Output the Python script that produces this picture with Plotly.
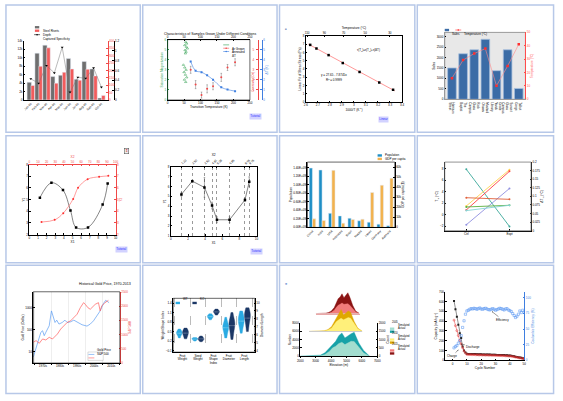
import numpy as np
import plotly.graph_objects as go

W, H = 563, 401
FONT = "Liberation Sans, Arial, sans-serif"
RED = "#f04848"
BLUE = "#3f7fe0"
GREEN = "#2e9e4f"

# 1 - rivets
CAT1 = ["Jan-06", "Feb-06", "Mar-06", "Apr-06", "May-06", "Jun-06", "Jul-06", "Aug-06", "Sep-06", "Oct-06"]
STEEL = [4200, 11100, 13000, 5550, 5870, 9850, 4930, 9150, 7350, 470]
DEPTH = [98, 228, 353, 114, 188, 210, 134, 208, 163, 31]
SPEC = [0.43, 0.34, 0.70, 0.55, 1.07, 0.16, 0.46, 0.44, 0.65, 0.26]

# 2 - samples
GREEN_T = [55, 58, 52, 57, 60, 53, 56, 54, 48, 52, 56, 50, 54, 58, 51, 55]
GREEN_M = [5.77, 5.61, 5.45, 5.28, 5.12, 4.96, 4.79, 4.63, 3.49, 3.23, 3.0, 2.77, 2.51, 2.25, 2.02, 1.79]
TEMP2 = [70, 85, 103, 120, 138, 163, 182, 205]
COERC = [3.0, 1.53, 0.49, 1.11, 1.37, 2.25, 3.23, 3.75]
COERC_ERR = [0.35, 0.4, 0.3, 0.4, 0.35, 0.4, 0.3, 0.35]
DELTA_T = [3.82, 2.90, 2.77, 2.45, 2.02, 1.27, 1.04, 0.88]

# 3 - linear fit
INV_T = [2.636, 2.688, 2.789, 2.907, 3.047, 3.211, 3.326]
STRESS = [6.92, 6.48, 5.68, 4.72, 3.64, 2.36, 1.48]
TEMP_C = [110, 90, 70, 50, 30]

# 4 - sales
CAT4 = ["Harrison<br>Street", "The<br>Baptist", "Rock<br>Glass<br>Campus", "Mustard<br>Ottawa",
        "Grove<br>Yards<br>Library", "Sunset<br>Glass<br>Campus", "Talbot<br>Gorge"]
SALES = [1500, 2180, 2370, 2870, 1370, 2370, 520]
TEMP4 = [15.8, 29.3, 34.2, 37.9, 10.1, 24.9, 41.1]

# 5 - double x/y
X1 = [1.22, 2.56, 3.9, 4.77, 5.42, 6.8, 8.5, 9.08]
Y1 = [5.17, 6.45, 5.82, 4.07, 2.62, 2.62, 4.58, 6.39]
X2 = [14.1, 29.4, 39.3, 50.8, 56.5, 67.6, 80.9, 91.6]
Y2 = [3.08, 3.27, 3.84, 5.06, 6.02, 6.76, 6.96, 7.04]

# 6 - error bars
X6 = [1.23, 2.5, 3.92, 4.81, 5.38, 6.85, 8.65, 9.15]
Y6 = [5.21, 6.56, 5.92, 4.07, 2.62, 2.62, 4.64, 6.5]
ERR6 = [0.2, 0.1, 1.0, 0.35, 0.3, 0.3, 0.15, 0.5]

# 7 - population
CAT7 = ["China", "India", "USA", "Indonesia", "Brazil", "Russia", "Japan", "Germany", "Australia"]
POP = [1.39e9, 1.345e9, 0.33e9, 0.27e9, 0.216e9, 0.155e9, 0.124e9, 0.077e9, 0.039e9]
GDP = [8520, 6890, 56700, 4260, 7870, 8200, 34750, 41970, 48850]

# 8 - paired lines
CAT8 = ["Ctrl", "Expt"]
PAIRS = {
    "#3aa89a": [7.89, -2.0],
    "#ffd34e": [1.54, 7.83],
    "#ff4040": [0.86, 7.54],
    "#8f8fe0": [-1.71, 4.57],
    "#e0603a": [2.97, 2.69],
    "#5cb040": [1.37, 1.66],
    "#86d4d4": [0.74, 1.66],
}

# 9 - gold
DECADES = ["1970s", "1980s", "1990s", "2000s", "2010s"]
GOLD_YEAR = [1969.4, 1971.0, 1972.5, 1973.8, 1974.8, 1975.8, 1976.7, 1978.7, 1980.0, 1981.0,
             1982.1, 1983.1, 1984.4, 1986.3, 1987.9, 1989.2, 1991.2, 1993.1, 1995.0, 1997.9,
             2000.8, 2002.7, 2004.6, 2006.5, 2008.5, 2010.4, 2011.7, 2012.9, 2013.7]
GOLD = [5.8, 13.6, 38, 76, 90, 54, 76, 151, 710, 424, 213, 271, 180, 213, 271, 213, 228, 271,
        228, 168, 146, 180, 253, 424, 710, 1510, 2130, 1857, 1675]
SP_YEAR = [1969.4, 1971.0, 1972.9, 1974.8, 1976.7, 1978.7, 1980.6, 1982.1, 1983.5, 1985.4,
           1987.3, 1989.2, 1991.2, 1993.1, 1995.0, 1996.9, 1998.8, 1999.8, 2001.3, 2002.7,
           2004.0, 2005.6, 2007.5, 2008.5, 2009.4, 2011.3, 2013.3]
SP = [729, 787, 694, 845, 810, 903, 845, 926, 1019, 1192, 1308, 1424, 1481, 1597, 1713, 1944,
      2118, 2060, 1944, 1887, 1968, 2060, 2118, 1829, 2002, 2118, 2199]

# 10 - violins
CAT10 = ["Fruit<br>Weight", "Seed<br>Weight", "Fruit<br>Shape<br>Index", "Fruit<br>Diameter", "Fruit<br>Length"]
FW_WT = [0.30, 0.36, 0.40, 0.43, 0.45, 0.46, 0.48, 0.50, 0.53, 0.58]
FW_KO = [0.27, 0.33, 0.38, 0.42, 0.45, 0.47, 0.50, 0.52, 0.56, 0.61]
SW_WT = [0.20, 0.23, 0.25, 0.26, 0.27, 0.28, 0.29, 0.31]
SW_KO = [0.18, 0.22, 0.24, 0.26, 0.27, 0.28, 0.30, 0.33, 0.36]
SI_WT = [0.87, 0.92, 0.95, 0.97, 0.98, 1.00, 1.02, 1.06]
SI_KO = [1.02, 1.07, 1.10, 1.12, 1.13, 1.15, 1.17, 1.21]
FD_WT = [5.6, 6.0, 6.4, 6.7, 6.9, 7.0, 7.1, 7.3, 7.6, 8.2]
FD_KO = [5.4, 6.0, 6.5, 6.9, 7.2, 7.4, 7.5, 7.7, 8.1, 8.8]
FL_WT = [6.2, 6.8, 7.2, 7.5, 7.7, 7.9, 8.0, 8.3, 8.6, 9.0]
FL_KO = [6.4, 7.0, 7.5, 7.9, 8.2, 8.4, 8.5, 8.7, 9.0, 9.4]

# 11 - ridges
ELEV = [2000, 2500, 3000, 3300, 3600, 3900, 4100, 4300, 4500, 4700, 4900, 5100, 5300, 5500, 5800, 6100, 6500]
BOT_DARK = [0, 40, 80, 240, 800, 2000, 3040, 3600, 4960, 5600, 4400, 4960, 5440, 5760, 3200, 1440, 0]
BOT_LIGHT = [0, 0, 0, 80, 400, 1200, 2000, 2400, 3040, 3360, 2800, 3200, 3600, 3520, 2240, 800, 0]
MID_DARK = [0, 40, 80, 160, 480, 1200, 2240, 3200, 4160, 5280, 4000, 4400, 4960, 4640, 2400, 800, 0]
MID_LIGHT = [0, 0, 40, 80, 320, 800, 1600, 2400, 2800, 3200, 2800, 3040, 3360, 3200, 2000, 640, 0]
TOP_DARK = [0, 0, 80, 240, 640, 1440, 2400, 3600, 4000, 4800, 3840, 4400, 5040, 4000, 2000, 640, 0]
TOP_LIGHT = [0, 0, 0, 80, 320, 800, 1440, 2000, 2240, 2560, 2240, 2400, 2400, 2000, 1200, 400, 0]

# 12 - battery cycling
CYCLES = list(range(1, 51))
DISCHARGE = [606, 522, 444, 364, 276, 229, 141, 101, 81, 67,
             66, 66, 65, 65, 64, 64, 63, 63, 62, 62,
             61, 61, 60, 60, 59, 59, 58, 58, 57, 57,
             56, 56, 55, 55, 54, 54, 53, 52, 51, 50,
             47, 44, 41, 38, 35, 32, 29, 26, 22, 18]
CHARGE = [411, 354, 303, 253, 202, 168, 128, 94, 74, 61,
          60, 60, 59, 59, 58, 58, 57, 57, 56, 56,
          55, 55, 54, 54, 53, 53, 52, 52, 51, 51,
          50, 50, 49, 49, 48, 48, 47, 46, 45, 44,
          42, 40, 37, 34, 31, 28, 25, 22, 19, 16]
EFF = [20.0, 22.1, 23.7, 27.4, 31.6, 39.5, 52.6, 63.2, 73.7, 78.9,
       80.0, 81.6, 82.6, 82.1, 83.2, 82.6, 81.6, 82.6, 83.7, 82.1,
       81.6, 82.6, 83.2, 82.1, 81.1, 80.5, 81.6, 82.6, 81.6, 80.0,
       81.1, 82.1, 83.2, 82.6, 81.6, 80.5, 82.1, 82.6, 80.5, 79.5,
       77.9, 74.7, 71.6, 68.4, 70.5, 73.7, 78.9, 76.3, 80.0, 76.8]


def xd(a, b):
    return [a / W, b / W]


def yd(top, bottom):
    return [1 - bottom / H, 1 - top / H]


def fnt(size=3, color="black"):
    return dict(size=size, color=color, family=FONT)


def ax(dom=None, color="black", title=None, **kw):
    d = dict(showline=True, linecolor=color, linewidth=0.6, ticks="inside", ticklen=1.5,
             tickwidth=0.5, tickcolor=color, tickfont=fnt(3, color), showgrid=False,
             zeroline=False, fixedrange=True)
    if dom is not None:
        d["domain"] = dom
    if title:
        d["title"] = dict(text=title, font=fnt(3.2, color), standoff=1)
    d.update(kw)
    return d


traces = []
shapes = []
annots = []
lay = {}


def sc(x, y, xa, ya, **kw):
    traces.append(go.Scatter(x=x, y=y, xaxis=xa, yaxis=ya, showlegend=False, hoverinfo="skip", **kw))


def ghost(x, y, xa, ya):
    # invisible trace so that an overlaid axis gets drawn
    sc(x, y, xa, ya, mode="markers", marker=dict(size=1, opacity=0))


def note(x, y, text, size=3, color="black", **kw):
    annots.append(dict(x=x / W, y=1 - y / H, xref="paper", yref="paper", text=text,
                       showarrow=False, font=fnt(size, color), **kw))


def swatch(x, y, color, label, kind="box", size=3):
    if kind == "box":
        shapes.append(dict(type="rect", xref="paper", yref="paper", x0=(x - 2.2) / W, x1=(x + 2.2) / W,
                           y0=1 - (y + 1.2) / H, y1=1 - (y - 1.2) / H, fillcolor=color, line=dict(width=0)))
    else:
        shapes.append(dict(type="line", xref="paper", yref="paper", x0=(x - 3) / W, x1=(x + 3) / W,
                           y0=1 - y / H, y1=1 - y / H, line=dict(color=color, width=0.6)))
        if kind == "dot":
            shapes.append(dict(type="circle", xref="paper", yref="paper", x0=(x - 0.8) / W, x1=(x + 0.8) / W,
                               y0=1 - (y + 0.8) / H, y1=1 - (y - 0.8) / H, fillcolor=color, line=dict(width=0)))
    note(x + 3.5, y, label, size=size, xanchor="left")


def box(xa, ya, color="black", width=0.6):
    shapes.append(dict(type="rect", xref=f"{xa} domain", yref=f"{ya} domain", x0=0, x1=1, y0=0, y1=1,
                       line=dict(color=color, width=width)))


def tutorial(x, y, text="Tutorial"):
    note(x, y, text, size=3, color="#2c2cff", bgcolor="#d2d2ff", borderpad=0.3)


# ---------- panel 1
idx1 = list(range(len(CAT1)))
traces.append(go.Bar(x=idx1, y=STEEL, xaxis="x", yaxis="y", marker_color="#6f6f6f", width=0.55,
                     offset=-0.475, showlegend=False, hoverinfo="skip"))
traces.append(go.Bar(x=idx1, y=DEPTH, xaxis="x", yaxis="y2", marker_color="#f25c5c", width=0.45,
                     offset=0.025, showlegend=False, hoverinfo="skip"))
sc(idx1, SPEC, "x", "y3", mode="lines+markers", line=dict(color="#777", width=0.5),
   marker=dict(symbol="triangle-down", size=2.5, color="black"))
lay["xaxis"] = ax(xd(21, 106), range=[-0.9, 9.8], tickvals=idx1, ticktext=CAT1, tickangle=-45,
                  ticks="", anchor="y")
lay["yaxis"] = ax(yd(39.3, 99), range=[0, 14000], dtick=2000, anchor="x")
lay["yaxis2"] = ax(color=RED, overlaying="y", side="right", anchor="x", range=[0, 400], dtick=50)
lay["yaxis3"] = ax(overlaying="y", side="right", anchor="free", position=112 / W, range=[0, 1.2], dtick=0.2)
swatch(34.5, 25.5, "#6f6f6f", "Steel Rivets")
swatch(34.5, 29, "#f25c5c", "Depth")
swatch(34.5, 33, "black", "Captured Specificity", kind="dot")

# ---------- panel 2
note(210, 28, "Characteristics of Samples Grown Under Different Conditions", size=3.4)
sc(GREEN_T, GREEN_M, "x2", "y4", mode="markers",
   marker=dict(symbol="triangle-up-open", size=2.2, color=GREEN, line=dict(width=0.5)))
sc(TEMP2, COERC, "x2", "y5", mode="markers", marker=dict(symbol="circle", size=2, color=RED),
   error_y=dict(type="data", array=COERC_ERR, thickness=0.4, width=0.8, color="#555"))
sc(TEMP2, DELTA_T, "x2", "y6", mode="lines+markers", line=dict(color=BLUE, width=0.6, shape="spline"),
   marker=dict(symbol="square", size=2, color=BLUE))
ghost(TEMP2, COERC, "x3", "y4")
lay["xaxis2"] = ax(xd(166.7, 250), range=[0, 250], dtick=50, anchor="y4", title="Transition Temperature (K)")
lay["xaxis3"] = ax(overlaying="x2", side="top", anchor="y4", range=[0, 250], dtick=50)
lay["yaxis4"] = ax(yd(38, 99), color=GREEN, range=[0, 6], dtick=1, anchor="x2",
                   title="Saturation Magnetization")
lay["yaxis5"] = ax(color=RED, overlaying="y4", side="right", anchor="free", position=258 / W,
                   range=[0, 6], dtick=1, ticklabelposition="inside")
lay["yaxis6"] = ax(color=BLUE, overlaying="y4", side="right", anchor="free", position=262 / W,
                   range=[0, 6], dtick=1, title="ΔT (K)")
box("x2", "y4")
note(253.5, 68, "Coercivity (Oe)", size=3, color=RED, textangle=-90)
swatch(226, 43.3, GREEN, "Ar Grown", kind="line")
swatch(226, 46.7, RED, "Annealed", kind="dot")
swatch(226, 50, BLUE, "ΔT", kind="dot")
tutorial(256, 112)

# ---------- panel 3
note(287, 23, "■", size=3, color="#7f96c0")
slope, inter = np.polyfit(INV_T, STRESS, 1)
r2 = np.corrcoef(INV_T, STRESS)[0, 1] ** 2
fit_x = [2.62, 3.34]
sc(fit_x, [inter + slope * v for v in fit_x], "x4", "y7", mode="lines", line=dict(color="#ff6b6b", width=0.7))
sc(INV_T, STRESS, "x4", "y7", mode="markers", marker=dict(symbol="square", size=2.5, color="black"))
ghost(INV_T, STRESS, "x5", "y7")
lay["xaxis4"] = ax(xd(306.7, 404), range=[2.6, 3.4], dtick=0.1, anchor="y7", title="1000/T (K<sup>-1</sup>)")
lay["xaxis5"] = ax(overlaying="x4", side="top", anchor="y7", range=[2.6, 3.4],
                   tickvals=[1000 / (c + 273.15) for c in TEMP_C], ticktext=[str(c) for c in TEMP_C],
                   title="Temperature (°C)")
lay["yaxis7"] = ax(yd(34.3, 101), range=[0, 8], dtick=1, anchor="x4", mirror=True,
                   title="Linear Fit of Shear Stress (Pa)")
note(370, 44, "τ(T<sub>p</sub>)=τ(T<sub>0</sub>)+τ(ΔT)", size=3)
note(335, 70, f"y = {inter:.2f} - {abs(slope):.4f}x", size=3)
note(335, 75, f"R<sup>2</sup> = {r2:.4f}", size=3)
tutorial(391, 115, "Linear")

# ---------- panel 4
idx4 = list(range(len(CAT4)))
shapes.append(dict(type="rect", xref="x6 domain", yref="y8 domain", x0=0, x1=1, y0=0, y1=1,
                   fillcolor="#e8e8e8", line=dict(color="#9a9a9a", width=1), layer="below"))
traces.append(go.Bar(x=idx4, y=SALES, xaxis="x6", yaxis="y8", width=0.78, showlegend=False,
                     hoverinfo="skip", marker=dict(color="#3b6ca6", line=dict(color="#a8c0de", width=0.8))))
sc(idx4, TEMP4, "x6", "y9", mode="lines+markers", line=dict(color="#ff8a8a", width=0.6),
   marker=dict(symbol="square", size=2.5, color="#ff2f2f"))
lay["xaxis6"] = ax(xd(447.3, 529), range=[-0.65, 6.6], tickvals=idx4, ticktext=CAT4, ticks="",
                   anchor="y8", linecolor="#9a9a9a")
lay["yaxis8"] = ax(yd(30.7, 98.3), range=[0, 3200], dtick=500, anchor="x6", title="Sales", linecolor="#9a9a9a")
lay["yaxis9"] = ax(color="#ff4d4d", overlaying="y8", side="right", anchor="x6", range=[0, 50], dtick=10,
                   title="Temperature (°C)")
swatch(449.5, 28.3, "#3b6ca6", "Sales")
swatch(461, 28.3, "#ff2f2f", "Temperature (°C)", kind="dot")

# ---------- panel 5
sc(X1, Y1, "x7", "y10", mode="lines+markers", line=dict(color="#333", width=0.6, shape="spline"),
   marker=dict(symbol="square", size=2.5, color="black"))
sc(X2, Y2, "x8", "y11", mode="lines+markers", line=dict(color="#ff5a5a", width=0.6, shape="spline"),
   marker=dict(symbol="circle", size=2, color="#ff3030"))
lay["xaxis7"] = ax(xd(26.7, 114), range=[0, 10], dtick=1, anchor="y10", title="X1")
lay["xaxis8"] = ax(color=RED, overlaying="x7", side="top", anchor="y10", range=[0, 100], dtick=10, title="X2")
lay["yaxis10"] = ax(yd(164.3, 235), range=[2, 8], dtick=1, anchor="x7", title="Y1")
lay["yaxis11"] = ax(color=RED, overlaying="y10", side="right", anchor="x7", range=[2, 8], dtick=1, title="Y2")
note(122.5, 150, "⇕", size=3.6, color="#c02020", bgcolor="#eeeeee", bordercolor="#444", borderwidth=0.5, borderpad=0.3)
tutorial(113, 250)

# ---------- panel 6
sc(X6, Y6, "x9", "y12", mode="lines+markers", line=dict(color="#333", width=0.6),
   marker=dict(symbol="square", size=2.5, color="black"),
   error_y=dict(type="data", array=ERR6, thickness=0.4, width=0.8, color="#333"))
ghost(X6, Y6, "x10", "y12")
lay["xaxis9"] = ax(xd(170, 256.7), range=[0, 10], dtick=2, anchor="y12", title="X1")
lay["xaxis10"] = ax(overlaying="x9", side="top", anchor="y12", range=[0, 10], tickvals=X6,
                    ticktext=[f"{v:.2f}" for v in X6], tickangle=-45, showgrid=True, gridcolor="#9a9a9a",
                    griddash="dot", gridwidth=0.4, title="X2")
lay["yaxis12"] = ax(yd(166.7, 236), range=[1, 8], dtick=1, anchor="x9", mirror=True, title="Y1")
tutorial(257, 252)

# ---------- panel 7
idx7 = list(range(len(CAT7)))
traces.append(go.Bar(x=idx7, y=POP, xaxis="x11", yaxis="y13", marker_color="#1f8fc6", width=0.33,
                     offset=-0.34, showlegend=False, hoverinfo="skip"))
traces.append(go.Bar(x=idx7, y=GDP, xaxis="x11", yaxis="y14", marker_color="#f2b24e", width=0.33,
                     offset=0.0, showlegend=False, hoverinfo="skip"))
pop_ticks = [i * 2e8 for i in range(8)]
lay["xaxis11"] = ax(xd(308.3, 396.7), range=[-0.52, 8.5], tickvals=idx7, ticktext=CAT7, tickangle=-45,
                    ticks="", anchor="y13")
lay["yaxis13"] = ax(yd(161.7, 227.7), range=[0, 1.53e9], tickvals=pop_ticks,
                    ticktext=[f"{v / 1e9:.2f}E+09" for v in pop_ticks], anchor="x11", title="Population")
lay["yaxis14"] = ax(overlaying="y13", side="right", anchor="x11", range=[0, 64900], dtick=10000,
                    title="GDP per capita ($)")
box("x11", "y13")
swatch(381.5, 155, "#1f8fc6", "Population")
swatch(381.5, 158.5, "#f2b24e", "GDP per capita")

# ---------- panel 8
for col, vals in PAIRS.items():
    sc([0, 1], vals, "x12", "y15", mode="lines+markers", line=dict(color=col, width=0.9),
       marker=dict(size=2, color=col))
ghost([0, 1], [0, 0.1], "x12", "y16")
lay["xaxis12"] = ax(xd(447.3, 534.7), range=[-0.5, 1.5], tickvals=[0, 1], ticktext=CAT8, anchor="y15")
lay["yaxis15"] = ax(yd(161.7, 231), range=[-2.74, 9.14], dtick=2, anchor="x12", title="T<sub>m</sub> (°C)")
lay["yaxis16"] = ax(overlaying="y15", side="right", anchor="x12", range=[0, 0.2], dtick=0.025,
                    title="ΔT<sub>m</sub> (°C)")
box("x12", "y15", color="#777", width=0.8)

# ---------- panel 9
note(75, 289.3, "Historical Gold Price, 1970-2013", size=3.6)
sc(GOLD_YEAR, GOLD, "x13", "y17", mode="lines", line=dict(color="#5a9cf2", width=0.7))
sc(SP_YEAR, SP, "x13", "y18", mode="lines", line=dict(color="#ff5a5a", width=0.7))
lay["xaxis13"] = ax(xd(30.7, 118.3), range=[1969.4, 2020], tickvals=[1975, 1985, 1995, 2005, 2015],
                    ticktext=DECADES, ticks="", anchor="y17",
                    minor=dict(tick0=1970, dtick=10, ticks="outside", ticklen=1.5, tickcolor="black",
                               showgrid=True, gridcolor="#eeeeee", gridwidth=0.4))
lay["yaxis17"] = ax(yd(292.7, 364.7), type="log", range=[0.493, 3.716], tickvals=[10, 100, 1000],
                    anchor="x13", title="Gold Price (Dollar)")
lay["yaxis18"] = ax(color=RED, overlaying="y17", side="right", anchor="x13", range=[0, 2500], dtick=500,
                    title="S&P 500")
box("x13", "y17")
shapes.append(dict(type="rect", xref="paper", yref="paper", x0=86 / W, x1=101.5 / W, y0=1 - 362 / H,
                   y1=1 - 353.5 / H, line=dict(color="#aaa", width=0.4), fillcolor="white"))
swatch(89.5, 356, "#5a9cf2", "Gold Price", kind="line")
swatch(89.5, 359.5, "#ff5a5a", "S&P 500", kind="line")

# ---------- panel 10
VIOLINS = [(0, FW_WT, FW_KO, "y19"), (1, SW_WT, SW_KO, "y19"), (2, SI_WT, SI_KO, "y19"),
           (3, FD_WT, FD_KO, "y20"), (4, FL_WT, FL_KO, "y20")]
for i, wt, ko, ya in VIOLINS:
    for vals, col, shift in ((wt, "#2aaae2", -0.2), (ko, "#1b3766", 0.2)):
        traces.append(go.Violin(y=vals, x0=i + shift, width=0.38, xaxis="x14", yaxis=ya, fillcolor=col,
                                line=dict(color=col, width=0.4), points=False, spanmode="hard",
                                meanline=dict(visible=True, color="white", width=0.4), opacity=1,
                                showlegend=False, hoverinfo="skip"))
lay["xaxis14"] = ax(xd(172.3, 255), range=[-0.6, 4.68], tickvals=list(range(5)), ticktext=CAT10, ticks="",
                    anchor="y19", minor=dict(tick0=0.5, dtick=1, ticks="", showgrid=True, gridcolor="#bbbbbb",
                                             griddash="dash", gridwidth=0.4))
lay["yaxis19"] = ax(yd(299.3, 353.7), range=[-0.15, 1.55], tick0=-0.1, dtick=0.3, anchor="x14",
                    title="Weight/Shape Index")
lay["yaxis20"] = ax(overlaying="y19", side="right", anchor="x14", range=[3.8, 10.6], dtick=1,
                    title="Diameter/Length")
box("x14", "y19")
swatch(177, 304, "#2aaae2", "WT")
swatch(194, 304, "#1b3766", "KO")

# ---------- panel 11 (back to front)
note(287, 289, "■", size=3.4, color="#7fa2d6")
RIDGES = [("x15", "y21", TOP_DARK, TOP_LIGHT, "#8b1414", "#f27b7b"),
          ("x16", "y22", MID_DARK, MID_LIGHT, "#dfa800", "#fff07a"),
          ("x17", "y23", BOT_DARK, BOT_LIGHT, "#17a2a8", "#a2ddcf")]
for xa, ya, dark, light, c1, c2 in RIDGES:
    sc(ELEV, dark, xa, ya, mode="lines", fill="tozeroy", fillcolor=c1, line=dict(color=c1, width=0.4))
    sc(ELEV, light, xa, ya, mode="lines", fill="tozeroy", fillcolor=c2, line=dict(color=c2, width=0.4))
ghost(ELEV, BOT_LIGHT, "x17", "y24")
lay["xaxis15"] = ax(xd(316.7, 361), range=[2000, 6500], anchor="y21", showticklabels=False, ticks="",
                    linecolor="#e8a8a8", linewidth=0.5)
lay["xaxis16"] = ax(xd(310, 364), range=[2000, 6500], anchor="y22", showticklabels=False, ticks="",
                    linecolor="#cccccc", linewidth=0.5)
lay["xaxis17"] = ax(xd(301, 379), range=[2000, 7000], dtick=1000, anchor="y23", ticks="outside",
                    title="Elevation (m)")
lay["yaxis21"] = dict(domain=yd(281.4, 314.7), range=[0, 8000], visible=False, anchor="x15", fixedrange=True)
lay["yaxis22"] = dict(domain=yd(299.4, 332.7), range=[0, 8000], visible=False, anchor="x16", fixedrange=True)
lay["yaxis23"] = ax(yd(324.3, 357.7), range=[0, 8000], dtick=2000, anchor="x17", title="Number")
lay["yaxis24"] = ax(overlaying="y23", side="right", anchor="x17", range=[0, 2000], dtick=500, title="Count")
LEG11 = [("2005", "#17a2a8", "#a2ddcf", 327), ("2010", "#dfa800", "#fff07a", 338), ("2015", "#8b1414", "#f27b7b", 349)]
for head, c1, c2, y0 in LEG11:
    note(392, y0, head, size=2.6, xanchor="left")
    swatch(394, y0 + 3, c2, "Simulated", size=2.6)
    swatch(394, y0 + 6, c1, "Actual", size=2.6)

# ---------- panel 12
sc(CYCLES, EFF, "x18", "y26", mode="markers",
   marker=dict(symbol="square-open", size=2.2, color="#4d8ff0", line=dict(width=0.5)))
sc(CYCLES, DISCHARGE, "x18", "y25", mode="lines+markers", line=dict(color="#222", width=0.5),
   marker=dict(symbol="square", size=2, color="#222"))
sc(CYCLES, CHARGE, "x18", "y25", mode="lines+markers", line=dict(color="#e23030", width=0.5),
   marker=dict(symbol="circle-open", size=2, color="#e23030", line=dict(width=0.5)))
lay["xaxis18"] = ax(xd(448, 528), range=[-5, 50.2], dtick=10, anchor="y25", title="Cycle Number")
lay["yaxis25"] = ax(yd(292.7, 362), range=[0, 700], dtick=100, anchor="x18", title="Capacity (mAh g<sup>-1</sup>)")
lay["yaxis26"] = ax(color=BLUE, overlaying="y25", side="right", anchor="x18", range=[0, 109.5], dtick=25,
                    title="Coulombic Efficiency (%)")
for x, y, text, dx, dy in ((27.5, 498, "Efficiency", 11, 8.6), (5.7, 168, "Discharge", 12.6, 2.7),
                           (4.1, 108, "Charge", -6.6, 6.4)):
    annots.append(dict(x=x, y=y, xref="x18", yref="y25", text=text, showarrow=True, ax=dx, ay=dy,
                       arrowhead=2, arrowsize=0.5, arrowwidth=0.4, arrowcolor="black", standoff=0,
                       font=fnt(3)))

# ---------- cell frames
CELL_X = [(3, 139), (141.5, 277.5), (280, 417), (419.5, 557.5)]
CELL_Y = [(3, 131.5), (135, 263.5), (266, 395.5)]
for y0, y1 in CELL_Y:
    for x0, x1 in CELL_X:
        shapes.append(dict(type="rect", xref="paper", yref="paper", x0=x0 / W, x1=x1 / W,
                           y0=1 - y1 / H, y1=1 - y0 / H, line=dict(color="#b7c8e8", width=1.5)))

fig = go.Figure(traces)
fig.update_layout(
    width=W, height=H, margin=dict(l=0, r=0, t=0, b=0),
    paper_bgcolor="white", plot_bgcolor="rgba(0,0,0,0)",
    font=fnt(3), showlegend=False, hovermode=False,
    barmode="overlay", violinmode="overlay",
    shapes=shapes, annotations=annots, **lay,
)
fig.write_html("out.html", config={"displayModeBar": False},
               post_script="document.body.style.margin='0';document.body.style.overflow='hidden';")
